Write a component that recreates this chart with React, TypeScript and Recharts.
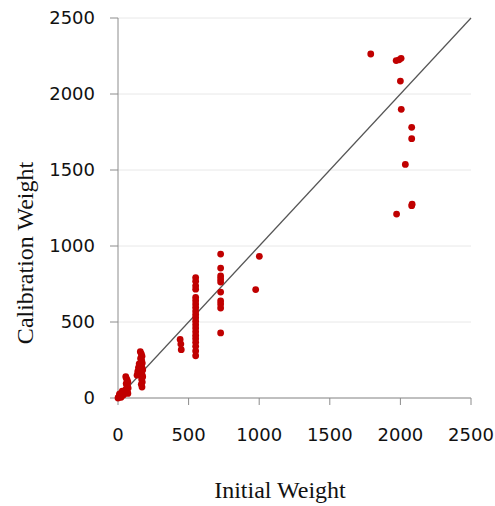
import React from 'react';
import { ScatterChart, Scatter, XAxis, YAxis, CartesianGrid, ReferenceLine } from 'recharts';

// initial vs calibration weight, grouped by the visible clusters
const nearZeroInitial = [0, 5, 10, 12, 15, 20, 22, 25, 30, 35, 38, 40, 45, 10, 20, 30];
const nearZeroCalib = [0, 5, 8, 18, 12, 18, 5, 15, 25, 30, 20, 35, 42, 25, 30, 45];

const col60Initial = [55, 60, 65, 70, 58, 62, 68, 72, 55, 60, 66, 70];
const col60Calib = [140, 128, 118, 105, 95, 85, 75, 65, 55, 45, 38, 30];

const col160Initial = [135, 140, 145, 150, 158, 165, 170, 160, 168, 172, 165, 170, 175, 165, 170, 175, 168, 172, 165, 170];
const col160Calib = [150, 175, 200, 225, 305, 290, 275, 260, 245, 230, 215, 200, 185, 170, 155, 140, 122, 105, 90, 72];

const col440Initial = [440, 445, 448];
const col440Calib = [385, 355, 318];

const col550Initial = [550, 550, 550, 550, 550, 550, 550, 550, 550, 550, 550, 550, 550, 550, 550, 550, 550, 550, 550, 550, 550];
const col550Calib = [792, 768, 738, 716, 662, 640, 618, 596, 572, 550, 528, 505, 482, 460, 436, 412, 390, 366, 340, 310, 278];

const col730Initial = [727, 727, 727, 727, 727, 727, 727, 727, 727, 727, 975, 1001];
const col730Calib = [947, 855, 803, 783, 763, 697, 638, 618, 592, 428, 713, 932];

const highInitial = [1790, 1970, 1990, 2005, 2000, 2006, 2080, 2080, 2035, 2080, 2083, 1973];
const highCalib = [2263, 2220, 2225, 2235, 2085, 1899, 1781, 1706, 1537, 1265, 1275, 1210];

const axisTicks = [0, 500, 1000, 1500, 2000, 2500];

const pair = (xs: number[], ys: number[]) => xs.map((x, i) => ({ x, y: ys[i] }));

const points = [
  ...pair(nearZeroInitial, nearZeroCalib),
  ...pair(col60Initial, col60Calib),
  ...pair(col160Initial, col160Calib),
  ...pair(col440Initial, col440Calib),
  ...pair(col550Initial, col550Calib),
  ...pair(col730Initial, col730Calib),
  ...pair(highInitial, highCalib),
];

const tickStyle = { fontFamily: 'DejaVu Sans', fontSize: 18, fill: '#111' };
const titleFont = 'Liberation Serif';

const Dot = (props: any) => <circle cx={props.cx} cy={props.cy} r={3.4} fill="#c00000" />;

export default function App() {
  return (
    <div style={{ position: 'absolute', left: 0, top: 0, background: '#fff' }}>
      <ScatterChart width={495} height={506} margin={{ top: 18, right: 24, bottom: 0, left: 0 }}>
        <CartesianGrid horizontal vertical={false} stroke="#e8e8e8" />
        <XAxis
          type="number"
          dataKey="x"
          domain={[0, 2500]}
          ticks={axisTicks}
          height={108}
          tick={tickStyle}
          tickSize={7}
          tickMargin={23}
          stroke="#8c8c8c"
          label={({ viewBox }: any) => (
            <text x={viewBox.x + 162} y={viewBox.y + 100} textAnchor="middle" fontFamily={titleFont} fontSize={24} fill="#111">
              Initial Weight
            </text>
          )}
        />
        <YAxis
          type="number"
          dataKey="y"
          domain={[0, 2500]}
          ticks={axisTicks}
          width={118}
          tick={tickStyle}
          tickSize={8}
          tickMargin={15}
          stroke="#8c8c8c"
          label={({ viewBox }: any) => (
            <text
              x={25}
              y={viewBox.y + 235}
              transform={`rotate(-90, 25, ${viewBox.y + 235})`}
              textAnchor="middle"
              dominantBaseline="central"
              fontFamily={titleFont}
              fontSize={24}
              fill="#111"
            >
              Calibration Weight
            </text>
          )}
        />
        <ReferenceLine
          segment={[{ x: 0, y: 0 }, { x: 2500, y: 2500 }]}
          stroke="#555"
          strokeWidth={1.2}
        />
        <Scatter data={points} shape={Dot} isAnimationActive={false} />
      </ScatterChart>
    </div>
  );
}
